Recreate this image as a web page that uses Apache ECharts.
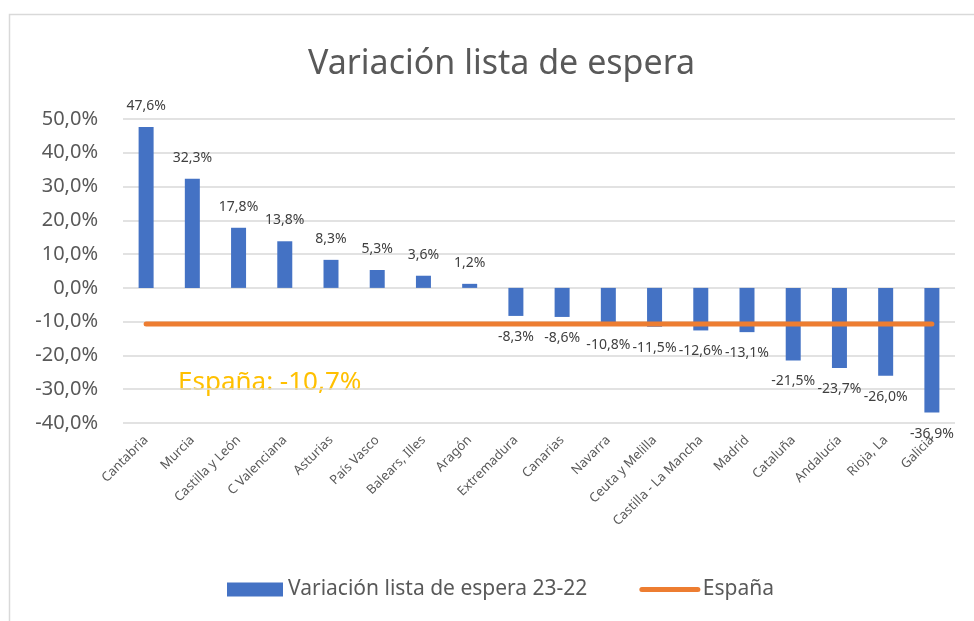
<!DOCTYPE html>
<html>
<head>
<meta charset="utf-8">
<title>Variación lista de espera</title>
<script src="https://cdn.jsdelivr.net/npm/echarts@6/dist/echarts.min.js"></script>
<style>
  html, body { margin: 0; padding: 0; background: #fff; }
  #chart { width: 974px; height: 621px; }
</style>
</head>
<body>
<div id="chart"></div>
<script>
  // datos
  var regiones = ['Cantabria', 'Murcia', 'Castilla y León', 'C Valenciana', 'Asturias', 'País Vasco',
    'Balears, Illes', 'Aragón', 'Extremadura', 'Canarias', 'Navarra', 'Ceuta y Melilla',
    'Castilla - La Mancha', 'Madrid', 'Cataluña', 'Andalucía', 'Rioja, La', 'Galicia']
  var variacion = [47.6, 32.3, 17.8, 13.8, 8.3, 5.3, 3.6, 1.2, -8.3, -8.6, -10.8, -11.5, -12.6, -13.1, -21.5, -23.7, -26.0, -36.9]
  var espana = [-10.7, -10.7, -10.7, -10.7, -10.7, -10.7, -10.7, -10.7, -10.7, -10.7, -10.7, -10.7, -10.7, -10.7, -10.7, -10.7, -10.7, -10.7]
  var yMin = -40, yMax = 50, yStep = 10

  var font = 'Noto Sans'
  var pct = function (v) { return v.toFixed(1).replace('.', ',') + '%' }

  var ec = echarts.init(document.getElementById('chart'))
  ec.setOption({
    animation: false,
    textStyle: { fontFamily: font },
    title: {
      text: 'Variación lista de espera',
      left: 303,
      top: 42,
      textStyle: { color: '#595959', fontSize: 34, fontWeight: 'normal', fontFamily: font }
    },
    graphic: [
      {
        type: 'rect',
        shape: { x: 9.5, y: 14.5, width: 990, height: 640 },
        style: { fill: 'none', stroke: '#D9D9D9', lineWidth: 1.5 },
        silent: true
      },
      {
        type: 'text',
        left: 178,
        top: 370,
        style: { text: 'España: -10,7%', fill: '#FFC000', fontSize: 26, fontFamily: font }
      }
    ],
    legend: {
      bottom: 16,
      left: 222,
      itemGap: 52,
      itemWidth: 56,
      itemHeight: 14,
      textStyle: { color: '#595959', fontSize: 21, fontFamily: font },
      data: [
        { name: 'Variación lista de espera 23-22', icon: 'rect' },
        { name: 'España', itemStyle: { opacity: 0 }, lineStyle: { width: 5, cap: 'round' } }
      ]
    },
    grid: { left: 123, right: 19, top: 119, bottom: 198, containLabel: false },
    xAxis: {
      type: 'category',
      data: regiones,
      axisLine: { show: false },
      axisTick: { show: false },
      axisLabel: {
        interval: 0,
        rotate: 45,
        margin: 15,
        color: '#595959',
        fontSize: 13,
        fontFamily: font
      }
    },
    yAxis: {
      type: 'value',
      min: yMin,
      max: yMax,
      interval: yStep,
      axisLine: { show: false },
      axisTick: { show: false },
      axisLabel: {
        margin: 25,
        color: '#595959',
        fontSize: 20,
        fontFamily: font,
        formatter: pct
      },
      splitLine: { lineStyle: { color: '#D9D9D9', width: 1.5 } }
    },
    series: [
      {
        name: 'Variación lista de espera 23-22',
        type: 'bar',
        data: variacion.map(function (v) {
          return { value: v, label: { position: v >= 0 ? 'top' : 'bottom' } }
        }),
        barWidth: 15,
        itemStyle: { color: '#4472C4' },
        label: {
          show: true,
          distance: 14,
          color: '#404040',
          fontSize: 14,
          fontFamily: font,
          formatter: function (p) { return pct(p.value) }
        }
      },
      {
        name: 'España',
        type: 'line',
        data: espana,
        symbol: 'none',
        z: 5,
        lineStyle: { color: '#ED7D31', width: 5, cap: 'round' },
        itemStyle: { color: '#ED7D31' }
      }
    ]
  })
</script>
</body>
</html>
